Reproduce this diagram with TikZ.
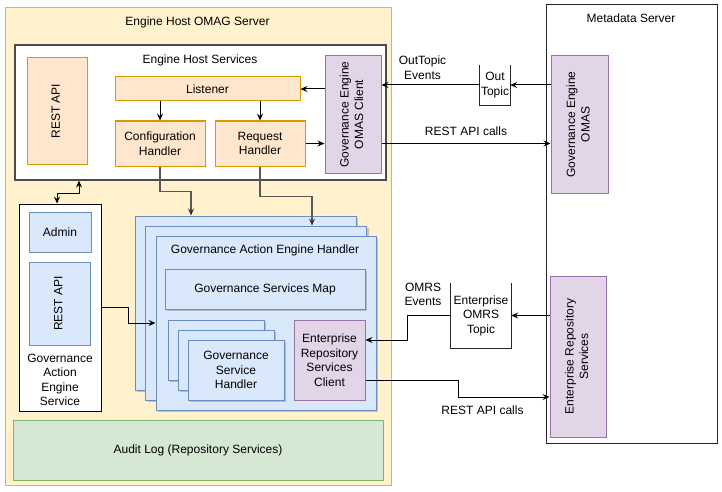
\documentclass[tikz,border=0pt]{standalone}
\usepackage{fontspec}
\setmainfont{Liberation Sans}
\usetikzlibrary{arrows.meta,shadows}
\definecolor{ylwF}{HTML}{FFF2CC}\definecolor{ylwD}{HTML}{D6B656}
\definecolor{orgF}{HTML}{FFE6CC}\definecolor{orgD}{HTML}{D79B00}
\definecolor{purF}{HTML}{E1D5E7}\definecolor{purD}{HTML}{9673A6}
\definecolor{bluF}{HTML}{DAE8FC}\definecolor{bluD}{HTML}{6C8EBF}
\definecolor{grnF}{HTML}{D5E8D4}\definecolor{grnD}{HTML}{82B366}
\definecolor{edgeG}{HTML}{595959}
\tikzset{
  base/.style={rectangle, inner sep=0pt, align=center},
  sz/.style 2 args={minimum width=#1pt, minimum height=#2pt},
  yellowbox/.style={base, draw=ylwD, fill=ylwF, line width=1pt},
  orangebox/.style={base, draw=orgD, fill=orgF, line width=1pt},
  purplebox/.style={base, draw=purD, fill=purF, line width=1pt},
  bluebox/.style={base, draw=bluD, fill=bluF, line width=1pt},
  blueshadow/.style={bluebox, drop shadow={shadow xshift=2pt, shadow yshift=-2pt, opacity=0.35, fill=black!60}},
  greenbox/.style={base, draw=grnD, fill=grnF, line width=1pt},
  whitebox/.style={base, draw=black, fill=white, line width=1pt},
  plaintext/.style={base},
  arr/.style={-{Stealth[length=7pt,width=6pt,inset=2.5pt]}, line width=1pt, black},
  grayarr/.style={-{Stealth[length=7pt,width=6pt,inset=2.5pt,color=black!80]}, line width=1.2pt, edgeG},
  dblarr/.style={{Stealth[length=7pt,width=6pt,inset=2.5pt]}-{Stealth[length=7pt,width=6pt,inset=2.5pt]}, line width=1pt, black},
}
\newcommand{\rottext}[1]{\rotatebox{90}{\begin{tabular}{@{}c@{}}#1\end{tabular}}}
\begin{document}
\begin{tikzpicture}[x=1pt, y=-1pt, font=\fontsize{12}{14.5}\selectfont]
\useasboundingbox (0,0) rectangle (722,492);
\fill[white] (0,0) rectangle (722,492);

% Engine Host OMAG Server
\node[yellowbox, sz={386}{477}] (ehos) at (198,246.5) {};
\node[plaintext] (ehostitle) at (197.5,22) {Engine Host OMAG Server};

% Engine Host Services
\node[base, draw=black!70, fill=white, line width=1.3pt, sz={371}{135}] (ehs) at (200.5,112.5) {};
\node[plaintext] (ehstitle) at (200,60) {Engine Host Services};
\node[orangebox, sz={60}{106}] (restapi1) at (57,111) {\rottext{REST API}};
\node[orangebox, sz={185}{24}] (listener) at (207.5,89) {Listener};
\node[orangebox, sz={90}{45}] (config) at (160,143.5) {Configuration\\Handler};
\node[orangebox, sz={90}{45}] (request) at (260,143.5) {Request\\Handler};
\node[purplebox, sz={56}{117}] (omasclient) at (353,114.5) {\rottext{Governance Engine\\OMAS Client}};

% Governance Action Engine Service
\node[whitebox, sz={82}{207}] (gaes) at (60,307.5) {};
\node[bluebox, sz={62}{40}] (admin) at (60,232) {Admin};
\node[bluebox, sz={61}{83}] (restapi2) at (59.5,303.5) {\rottext{REST API}};
\node[plaintext] (gaestext) at (60,380) {Governance\\Action\\Engine\\Service};

% Governance Action Engine Handler stack
\node[blueshadow, sz={221}{174}] (gaehback) at (245.5,303) {};
\node[blueshadow, sz={221}{174}] (gaehmid) at (256,313) {};
\node[blueshadow, sz={220}{174}] (gaehfront) at (266,323) {};
\node[plaintext] (gaehtitle) at (265,250) {Governance Action Engine Handler};
\node[blueshadow, sz={200}{40}] (gsm) at (265,289) {Governance Services Map};
\node[blueshadow, sz={96}{60}] (gshback) at (216,350) {};
\node[blueshadow, sz={96}{60}] (gshmid) at (226,360) {};
\node[blueshadow, sz={96}{60}] (gshfront) at (236,370) {Governance\\Service\\Handler};
\node[purplebox, sz={71}{80}] (ersclient) at (329.5,360) {Enterprise\\Repository\\Services\\Client};

% Audit log
\node[greenbox, sz={370}{60}] (audit) at (198,450) {Audit Log (Repository Services)};

% Metadata Server
\node[base, draw=black!85, fill=white, line width=1pt, sz={171}{438}] (meta) at (631.5,224) {};
\node[plaintext] (metatitle) at (631,18.5) {Metadata Server};
\node[purplebox, sz={57}{137}] (omas) at (579.5,124.5) {\rottext{Governance Engine\\OMAS}};
\node[purplebox, sz={56}{161}] (ers) at (578,356.5) {\rottext{Enterprise Repository\\Services}};

% Topics
\node[base, sz={30}{40}] (outtopic) at (495,85) {Out\\Topic};
\draw[line width=1pt, black!85] (outtopic.north west) -- (outtopic.south west) -- (outtopic.south east) -- (outtopic.north east);
\node[base, sz={60}{65}] (omrstopic) at (481,315.5) {Enterprise\\OMRS\\Topic};
\draw[line width=1pt, black!85] (omrstopic.north west) -- (omrstopic.south west) -- (omrstopic.south east) -- (omrstopic.north east);

% Labels
\node[plaintext] (lblout) at (422.5,67.5) {OutTopic\\Events};
\node[plaintext] (lblrest1) at (466,131) {REST API calls};
\node[plaintext] (lblomrs) at (423,294.5) {OMRS\\Events};
\node[plaintext] (lblrest2) at (482.5,410) {REST API calls};

% Connectors inside Engine Host Services
\draw[arr] (listener.south -| config.north) -- (config.north);
\draw[arr] (listener.south -| request.north) -- (request.north);
\draw[arr] (omasclient.west |- listener.east) -- (listener.east);
\draw[arr] (request.east) -- (request.east -| omasclient.west);

% Metadata server connectors
\draw[arr] (omas.west |- outtopic.east) -- (outtopic.east);
\draw[arr] (outtopic.west) -- (outtopic.west -| omasclient.east);
\draw[arr] (omasclient.east |- request.east) -- (omas.west |- request.east);
\draw[arr] (ers.west |- omrstopic.east) -- (omrstopic.east);
\draw[arr] (omrstopic.west) -- ++(-43,0) |- ([yshift=20pt]ersclient.east);
\draw[arr] ([yshift=-20pt]ersclient.east) -- ++(93,0) |- ([yshift=-40.5pt]ers.west);

% Handlers to engine handler
\draw[grayarr] (config.south) -- ++(0,25) -| ([xshift=-54.5pt]gaehback.north);
\draw[grayarr] (request.south) -- ++(0,30) -| ([xshift=56pt]gaehmid.north);

% Engine service connectors
\draw[dblarr] ([xshift=-3pt]gaes.north) -- ++(0,-10) -| ([xshift=-121.5pt]ehs.south);
\draw[arr] (gaes.east) -- ++(27,0) |- (gaehfront.west);
\end{tikzpicture}
\end{document}
